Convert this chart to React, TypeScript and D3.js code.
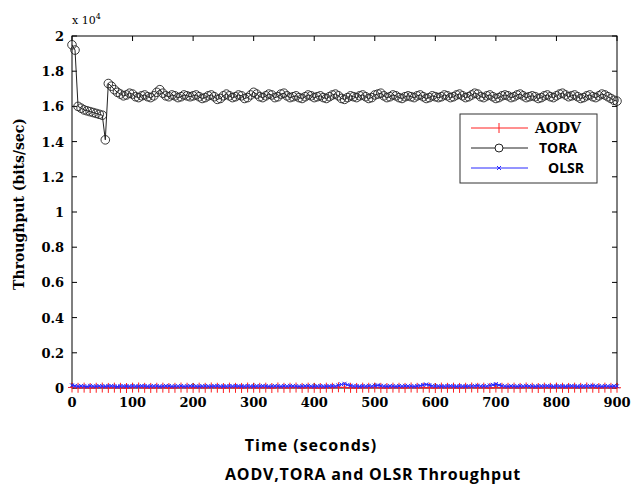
import React from "react";
import * as d3 from "d3";

const toraTimes = d3.range(0, 905, 5);
const toraValues = [
  19500, 19200, 16000, 15900, 15800, 15750, 15700, 15650, 15600, 15550,
  15500, 14100, 17300, 17150, 16950, 16800, 16700, 16600, 16650, 16750,
  16700, 16550, 16500, 16600, 16650, 16550, 16500, 16600, 16800, 16950,
  16750, 16600, 16550, 16650, 16600, 16500, 16550, 16650, 16600, 16550,
  16600, 16650, 16550, 16450, 16500, 16600, 16650, 16550, 16400, 16450,
  16600, 16700, 16600, 16500, 16550, 16650, 16600, 16450, 16500, 16650,
  16800, 16700, 16550, 16500, 16600, 16700, 16650, 16500, 16550, 16700,
  16750, 16600, 16500, 16550, 16600, 16500, 16450, 16550, 16650, 16600,
  16500, 16550, 16600, 16500, 16450, 16550, 16650, 16700, 16600, 16450,
  16400, 16500, 16600, 16550, 16500, 16600, 16650, 16550, 16450, 16500,
  16650, 16700, 16750, 16600, 16500, 16550, 16650, 16600, 16500, 16450,
  16550, 16600, 16550, 16500, 16600, 16650, 16550, 16450, 16500, 16600,
  16550, 16500, 16550, 16650, 16600, 16500, 16550, 16650, 16700, 16600,
  16500, 16550, 16650, 16750, 16700, 16550, 16500, 16600, 16650, 16550,
  16450, 16500, 16600, 16650, 16600, 16500, 16550, 16650, 16700, 16600,
  16500, 16550, 16600, 16550, 16450, 16500, 16600, 16650, 16550, 16500,
  16600, 16700, 16750, 16650, 16550, 16600, 16650, 16550, 16450, 16500,
  16600, 16650, 16550, 16500, 16600, 16700, 16650, 16550, 16450, 16350,
  16300,
];

const olsrTimes = d3.range(0, 905, 5);
const olsrValues = [
  150, 120, 90, 110, 100, 80, 120, 100, 90, 110,
  100, 90, 110, 120, 100, 80, 100, 110, 90, 100,
  110, 100, 90, 120, 110, 90, 100, 110, 100, 90,
  100, 120, 110, 90, 100, 100, 110, 90, 100, 120,
  110, 100, 90, 100, 110, 100, 90, 110, 120, 100,
  90, 100, 110, 100, 120, 110, 90, 100, 110, 100,
  90, 110, 100, 120, 100, 90, 100, 110, 100, 90,
  110, 100, 120, 110, 100, 90, 100, 110, 120, 100,
  90, 100, 110, 100, 90, 110, 120, 100, 150, 200,
  240, 180, 130, 110, 100, 90, 110, 100, 120, 100,
  130, 150, 120, 100, 90, 110, 100, 90, 110, 100,
  120, 110, 100, 90, 110, 130, 170, 200, 160, 120,
  100, 110, 90, 100, 110, 120, 100, 90, 110, 100,
  90, 110, 100, 120, 130, 100, 110, 100, 140, 180,
  220, 160, 120, 100, 90, 110, 100, 90, 110, 100,
  120, 110, 100, 90, 100, 110, 100, 120, 110, 90,
  100, 110, 100, 90, 110, 120, 100, 90, 100, 110,
  100, 120, 130, 110, 100, 90, 110, 100, 90, 110,
  100,
];

const aodvTimes = d3.range(0, 910, 10);
const aodvValues = [
  30, 10, 20, 0, 15, 25, 5, 20, 10, 0,
  20, 30, 10, 5, 15, 20, 0, 10, 25, 15,
  5, 20, 10, 30, 15, 0, 20, 10, 5, 25,
  15, 10, 20, 0, 30, 10, 15, 25, 5, 20,
  10, 0, 20, 15, 40, 30, 10, 5, 20, 15,
  25, 10, 0, 20, 15, 5, 30, 10, 20, 15,
  0, 25, 10, 20, 5, 15, 30, 10, 20, 0,
  25, 15, 10, 20, 5, 30, 15, 0, 20, 10,
  25, 15, 5, 20, 10, 30, 15, 0, 20, 10,
  15,
];

const xTicks = [0, 100, 200, 300, 400, 500, 600, 700, 800, 900];
const yTicks = [0, 0.2, 0.4, 0.6, 0.8, 1, 1.2, 1.4, 1.6, 1.8, 2];
const legendLabels = ["AODV", "TORA", "OLSR"];

const W = 631;
const H = 487;
const L = 72, R = 617, T = 36, B = 388;

export default function App() {
  const x = d3.scaleLinear().domain([0, 900]).range([L, R]);
  const y = d3.scaleLinear().domain([0, 20000]).range([B, T]);
  const line = d3
    .line<[number, number]>()
    .x((d) => x(d[0]))
    .y((d) => y(d[1]));

  const tora: [number, number][] = toraTimes.map((t, i) => [t, toraValues[i]]);
  const olsr: [number, number][] = olsrTimes.map((t, i) => [t, olsrValues[i]]);
  const aodv: [number, number][] = aodvTimes.map((t, i) => [t, aodvValues[i]]);

  const serif = "'DejaVu Serif', serif";
  const sans = "'Open Sans', 'Liberation Sans', sans-serif";
  const tickLen = 5;
  const red = "#ff2020";
  const blue = "#2828ff";
  const dark = "#222";

  const lgX = 460, lgY = 114, lgW = 137, lgH = 69;
  const lgRows = [128, 148, 168];

  return (
    <svg
      width={W}
      height={H}
      style={{ position: "fixed", left: 0, top: 0, background: "#fff" }}
    >
      <rect x={0} y={0} width={W} height={H} fill="#fff" />
      {/* axes box */}
      <rect x={L} y={T} width={R - L} height={B - T} fill="none" stroke="#000" strokeWidth={1} />
      {xTicks.map((t) => (
        <g key={"xt" + t}>
          <line x1={x(t)} x2={x(t)} y1={B} y2={B - tickLen} stroke="#000" />
          <line x1={x(t)} x2={x(t)} y1={T} y2={T + tickLen} stroke="#000" />
          <text
            x={x(t)}
            y={407}
            textAnchor="middle"
            fontFamily={serif}
            fontWeight="bold"
            fontSize={13}
          >
            {t}
          </text>
        </g>
      ))}
      {yTicks.map((t) => (
        <g key={"yt" + t}>
          <line x1={L} x2={L + tickLen} y1={y(t * 1e4)} y2={y(t * 1e4)} stroke="#000" />
          <line x1={R} x2={R - tickLen} y1={y(t * 1e4)} y2={y(t * 1e4)} stroke="#000" />
          <text
            x={64}
            y={y(t * 1e4) + 5}
            textAnchor="end"
            fontFamily={serif}
            fontWeight="bold"
            fontSize={13}
          >
            {t}
          </text>
        </g>
      ))}
      <text x={72} y={24} fontFamily={serif} fontSize={11}>
        x 10
        <tspan dy={-5} fontSize={8}>4</tspan>
      </text>

      {/* TORA */}
      <path d={line(tora) || ""} fill="none" stroke={dark} strokeWidth={1} />
      {tora.map((d, i) => (
        <circle key={"c" + i} cx={x(d[0])} cy={y(d[1])} r={4.3} fill="none" stroke={dark} strokeWidth={0.9} />
      ))}

      {/* AODV */}
      <path d={line(aodv) || ""} fill="none" stroke={red} strokeWidth={1} />
      {aodv.map((d, i) => (
        <g key={"p" + i} stroke={red} strokeWidth={1}>
          <line x1={x(d[0]) - 4} x2={x(d[0]) + 4} y1={y(d[1])} y2={y(d[1])} />
          <line x1={x(d[0])} x2={x(d[0])} y1={y(d[1]) - 5} y2={y(d[1]) + 5} />
        </g>
      ))}

      {/* OLSR */}
      <path d={line(olsr) || ""} fill="none" stroke={blue} strokeWidth={1.2} />
      {olsr.map((d, i) => (
        <g key={"x" + i} stroke={blue} strokeWidth={1}>
          <line x1={x(d[0]) - 2} x2={x(d[0]) + 2} y1={y(d[1]) - 2} y2={y(d[1]) + 2} />
          <line x1={x(d[0]) - 2} x2={x(d[0]) + 2} y1={y(d[1]) + 2} y2={y(d[1]) - 2} />
        </g>
      ))}

      {/* legend */}
      <rect x={lgX} y={lgY} width={lgW} height={lgH} fill="#fff" stroke="#333" strokeWidth={1} />
      <line x1={471} x2={528} y1={lgRows[0]} y2={lgRows[0]} stroke={red} />
      <line x1={499} x2={499} y1={lgRows[0] - 5} y2={lgRows[0] + 5} stroke={red} />
      <text x={535} y={lgRows[0] + 5} fontFamily={serif} fontWeight="bold" fontSize={14}>
        {legendLabels[0]}
      </text>
      <line x1={471} x2={528} y1={lgRows[1]} y2={lgRows[1]} stroke={dark} />
      <circle cx={499} cy={lgRows[1]} r={4} fill="#fff" stroke={dark} />
      <text x={539} y={lgRows[1] + 5} fontFamily={sans} fontWeight="bold" fontSize={14}>
        {legendLabels[1]}
      </text>
      <line x1={471} x2={528} y1={lgRows[2]} y2={lgRows[2]} stroke={blue} />
      <g stroke={blue}>
        <line x1={497} x2={501} y1={lgRows[2] - 2} y2={lgRows[2] + 2} />
        <line x1={497} x2={501} y1={lgRows[2] + 2} y2={lgRows[2] - 2} />
      </g>
      <text x={548} y={lgRows[2] + 5} fontFamily={sans} fontWeight="bold" fontSize={14}>
        {legendLabels[2]}
      </text>

      {/* y title */}
      <text
        transform="translate(24,204) rotate(-90)"
        textAnchor="middle"
        fontFamily={serif}
        fontWeight="bold"
        fontSize={14}
      >
        Throughput (bits/sec)
      </text>
      {/* x title */}
      <text x={311} y={451} textAnchor="middle" fontFamily={sans} fontWeight="bold" fontSize={16} letterSpacing={1}>
        Time (seconds)
      </text>
      <text x={373} y={480} textAnchor="middle" fontFamily={sans} fontWeight="bold" fontSize={16} letterSpacing={0.8}>
        AODV,TORA and OLSR Throughput
      </text>
    </svg>
  );
}
